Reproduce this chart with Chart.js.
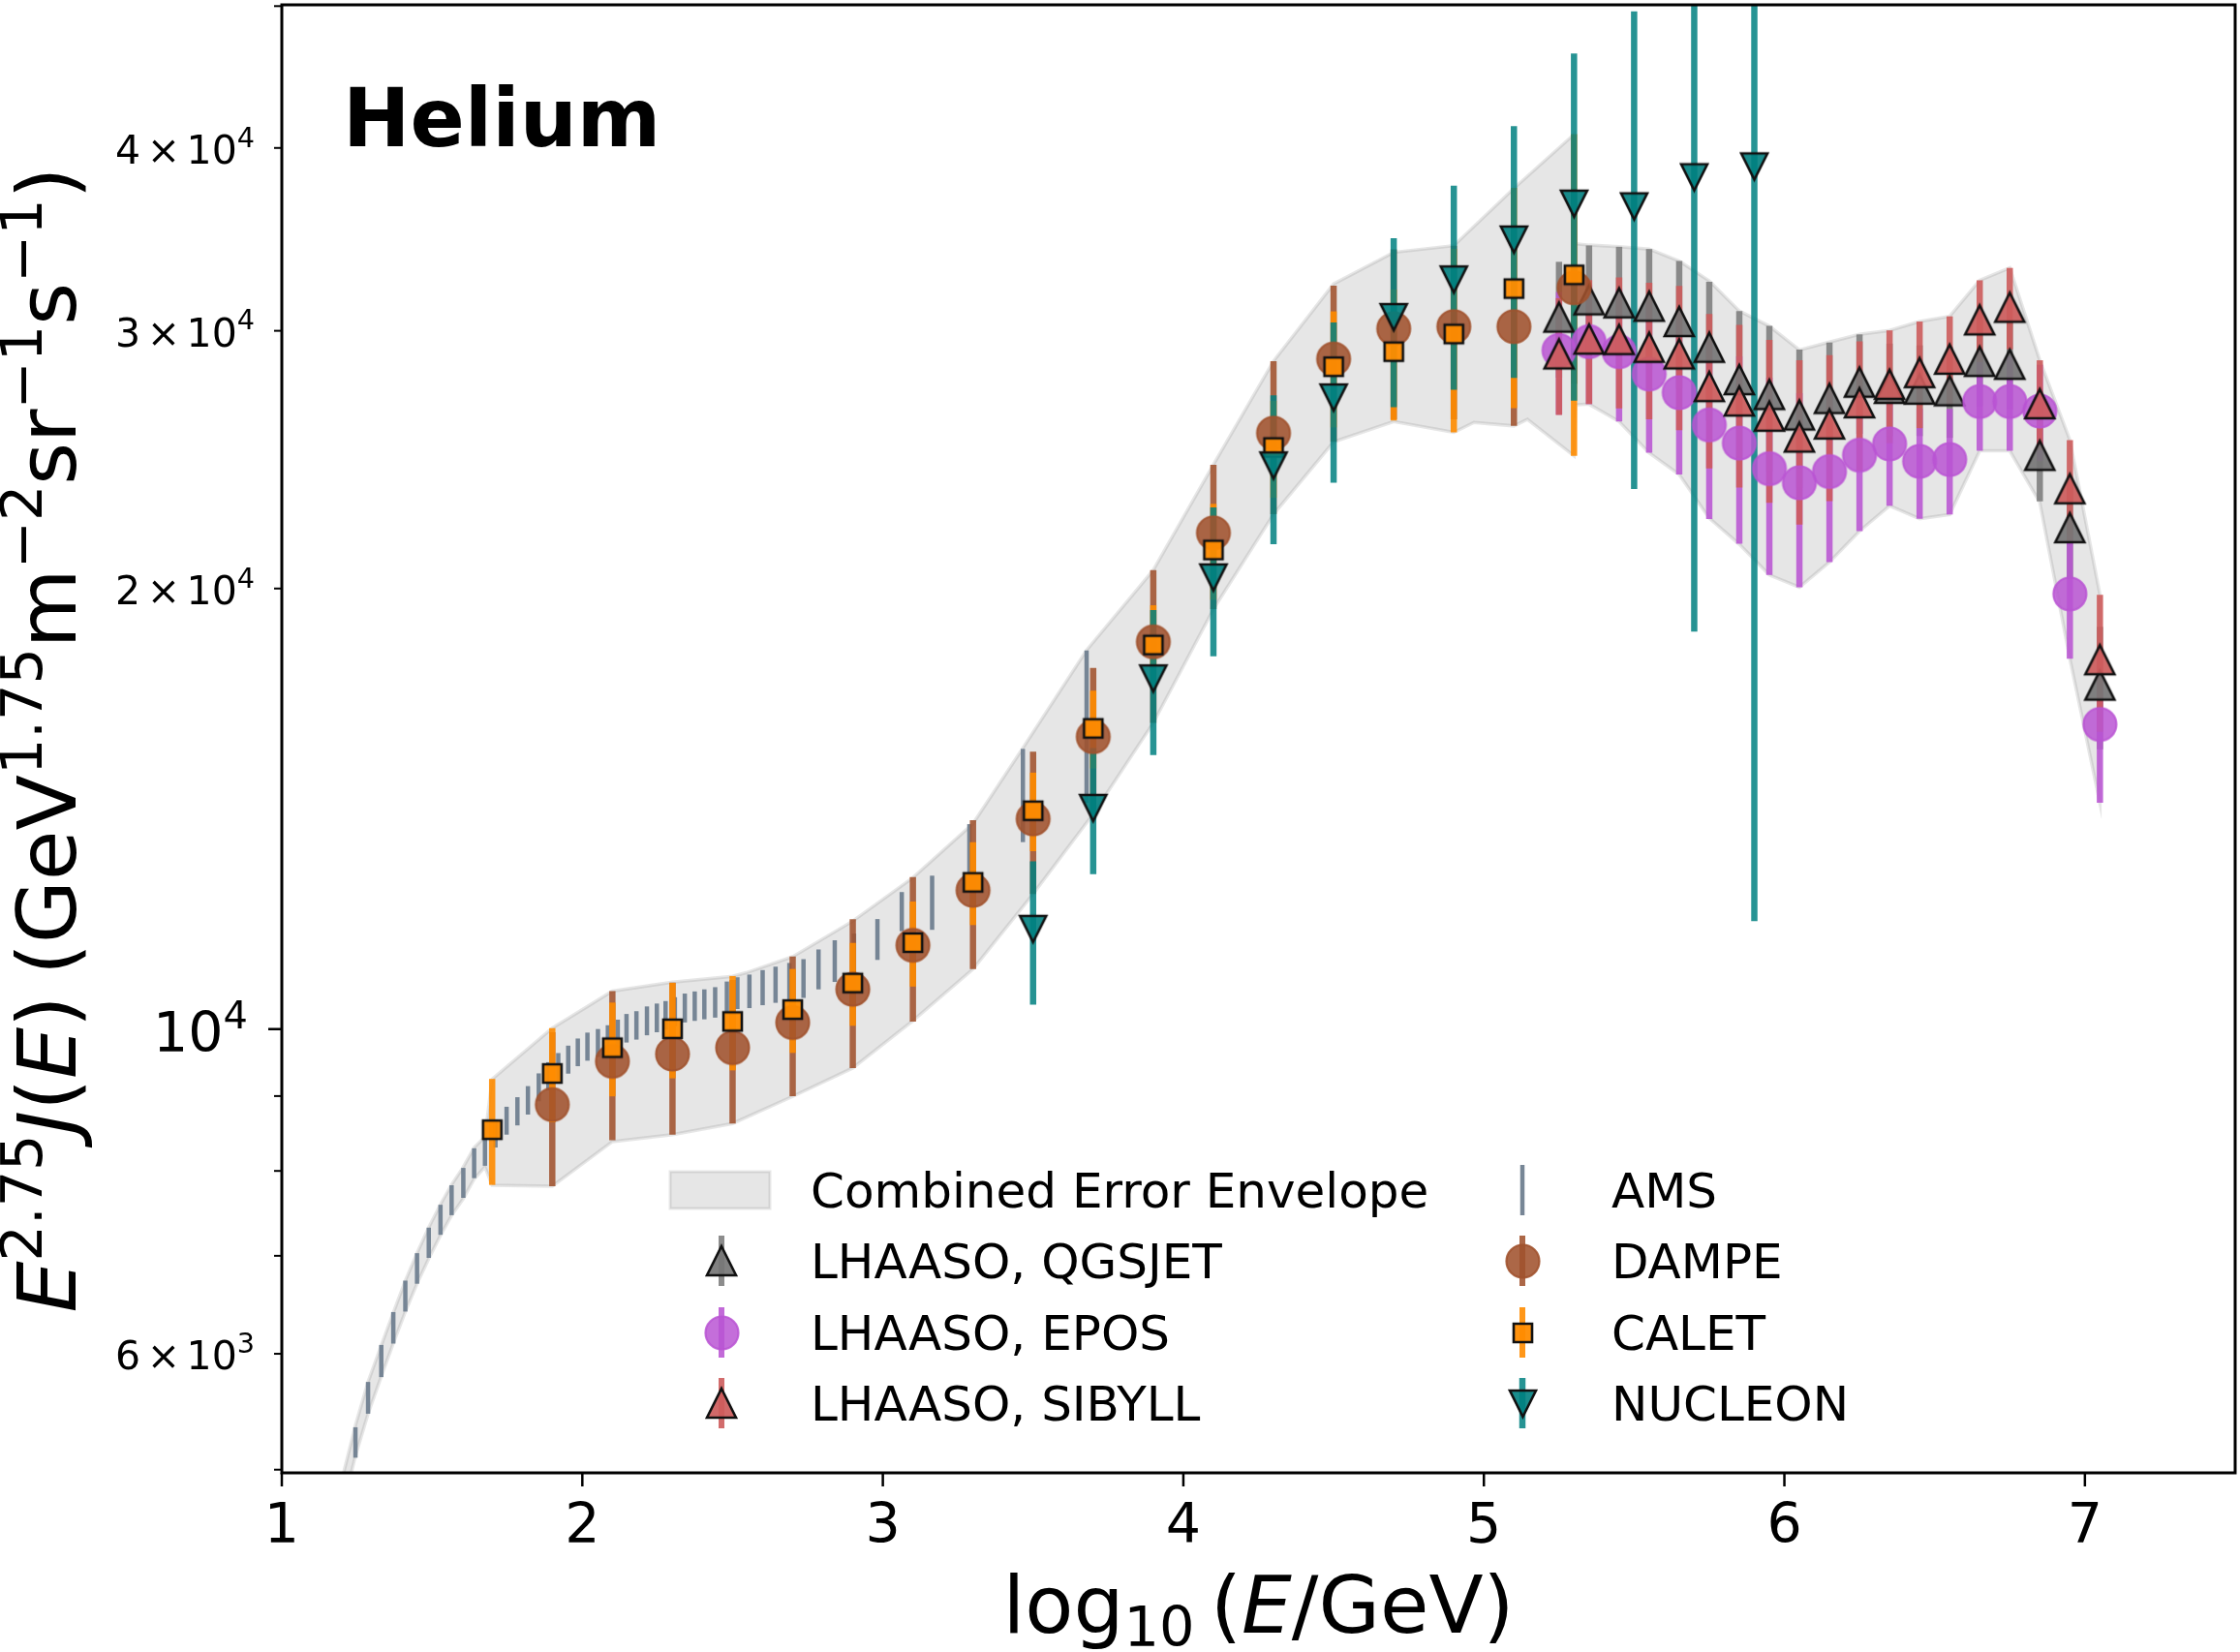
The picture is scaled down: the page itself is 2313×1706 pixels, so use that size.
<!DOCTYPE html>
<html><head><meta charset="utf-8">
<script src="https://cdn.jsdelivr.net/npm/chart.js@4/dist/chart.umd.min.js"></script>
<style>html,body{margin:0;padding:0;background:#fff}canvas{display:block}</style>
</head><body>
<canvas id="c" width="2313" height="1706"></canvas>
<script>
// ---------------- data ----------------
const amsX = [1.245,1.287,1.331,1.371,1.411,1.450,1.489,1.528,1.565,1.604,1.640,1.676,1.711,1.748,1.784,1.819,1.855,1.887,1.920,1.953,1.985,2.017,2.052,2.085,2.118,2.147,2.180,2.215,2.248,2.277,2.308,2.341,2.374,2.406,2.442,2.481,2.516,2.556,2.600,2.643,2.689,2.736,2.786,2.840,2.904,2.982,3.063,3.164,3.288,3.466,3.678];
const amsY = [5220,5600,5934,6252,6572,6864,7147,7410,7642,7853,8100,8245,8485,8660,8789,8942,9127,9288,9425,9533,9643,9730,9786,9841,9929,10016,10061,10133,10180,10221,10280,10340,10370,10400,10432,10522,10585,10616,10678,10727,10782,10833,10990,11135,11252,11520,12036,12210,13285,14480,16210];
const amsErr = [125,140,150,155,160,165,170,175,180,185,190,180,185,190,195,200,200,205,205,210,210,215,215,220,220,225,225,230,230,230,235,235,240,245,250,255,265,280,295,305,315,330,345,365,370,370,370,520,520,1060,1930];

const dampeX = [1.9,2.1,2.3,2.5,2.7,2.9,3.1,3.3,3.5,3.7,3.9,4.1,4.3,4.5,4.7,4.9,5.1,5.3];
const dampeY = [8880,9506,9615,9711,10104,10646,11410,12440,13920,15840,18390,21830,25540,28700,30100,30200,30200,32100];
const dampeErr = [1070,1110,1145,1091,1105,1240,1290,1450,1550,1810,2200,2470,3060,3510,4000,4100,4370,4500];

const caletX = [1.7,1.9,2.1,2.3,2.5,2.7,2.9,3.1,3.3,3.5,3.7,3.9,4.1,4.3,4.5,4.7,4.9,5.1,5.3];
const caletY = [8536,9325,9711,10005,10121,10312,10752,11457,12598,14100,16050,18300,21250,24970,28350,29030,29850,32060,32760];
const caletErr = [710,690,715,750,750,680,700,765,820,870,980,1180,1600,1900,2580,2980,4280,5500,8120];

const nucleonX = [3.5,3.7,3.9,4.1,4.3,4.5,4.7,4.9,5.1,5.3,5.5,5.7,5.9];
const nucleonY = [11706,14160,17360,20350,24270,27010,30650,32520,34630,36640,36490,38200,38850];
const nucleonErr = [1315,1400,1970,2370,2830,3390,4050,5180,6770,9760,13100,19510,27000];

const lhaasoX = [5.25,5.35,5.45,5.55,5.65,5.75,5.85,5.95,6.05,6.15,6.25,6.35,6.45,6.55,6.65,6.75,6.85,6.95,7.05];
const qgsjetY = [30650,31500,31350,31180,30440,29230,27780,27140,26280,26970,27670,27400,27370,27300,28590,28460,24660,22010,17180];
const qgsjetErr = [2790,2810,2890,2940,3040,3180,3170,3090,2850,2480,2160,2000,1950,1950,1950,1950,1720,1700,1650];
const eposY = [29090,29490,29030,28030,27220,25870,25140,24150,23620,24040,24670,25110,24430,24500,26840,26840,26440,19830,16150];
const eposErr = [2800,2760,3020,3270,3290,3560,3680,3720,3580,3190,2780,2330,2110,2030,2000,2000,2000,1920,1870];
const sibyllY = [28930,29610,29590,29230,28930,27480,26860,26230,25380,25910,26790,27580,28090,28690,30520,31130,26750,23400,17880];
const sibyllErr = [2650,2880,3040,3130,3270,3320,3420,3340,3260,2960,2720,2440,2350,2000,1960,1990,1890,1860,1920];

// combined error envelope outline
const envUpX = [1.205,1.245,1.287,1.331,1.371,1.411,1.450,1.489,1.528,1.565,1.604,1.640,1.676,1.700,1.900,2.100,2.300,2.500,2.545,2.700,2.900,3.100,3.300,3.466,3.678,3.900,4.100,4.300,4.500,4.700,4.900,5.100,5.300,5.305,5.350,5.450,5.550,5.650,5.750,5.850,5.950,6.050,6.150,6.250,6.350,6.450,6.550,6.650,6.750,6.850,6.950,7.050];
const envUpY = [4970,5360,5740,6080,6400,6730,7030,7320,7590,7830,8050,8300,8440,9243,10015,10616,10765,10865,10927,11207,11853,12690,13816,15560,18150,20590,24300,28600,32300,33940,34300,37540,40860,34400,34330,34240,34120,33480,32450,30950,30220,29110,29470,29830,30020,30440,30690,32480,33120,28640,25260,19810];
const envLoX = [1.205,1.245,1.287,1.331,1.371,1.411,1.450,1.489,1.528,1.565,1.604,1.640,1.676,1.700,1.900,2.100,2.300,2.500,2.700,2.900,3.100,3.300,3.500,3.700,3.900,4.100,4.300,4.500,4.700,4.900,4.967,5.100,5.145,5.300,5.305,5.350,5.450,5.550,5.650,5.750,5.850,5.950,6.050,6.150,6.250,6.350,6.450,6.550,6.650,6.750,6.850,6.950,7.050];
const envLoY = [4730,5110,5460,5790,6100,6410,6700,6970,7230,7460,7660,7900,8050,7822,7810,8378,8470,8620,8995,9406,10133,10990,12370,14030,16190,19360,22480,25190,26010,25570,25970,25830,26100,24640,26700,26730,26010,24760,23930,22340,21440,20430,20040,20850,21890,22780,22320,22470,24840,24840,22900,17910,14270];

// ticks / labels
const xTickValues = [1,2,3,4,5,6,7];
const yMajorTicks = [10000];
const yMinorTicks = [5000,6000,7000,8000,9000,20000,30000,40000,50000];
const yMinorLabelValues = [6000,20000,30000,40000];
const yMinorLabelMant = ['6','2','3','4'];
const yMinorLabelExp = ['3','4','4','4'];
const seriesNames = ['Combined Error Envelope','LHAASO, QGSJET','LHAASO, EPOS','LHAASO, SIBYLL','AMS','DAMPE','CALET','NUCLEON'];

// ---------------- styling ----------------
const FONT = "'DejaVu Sans', sans-serif";
const COL = {
  qgs: 'rgba(128,128,128,0.9)', epos: 'rgba(186,85,211,0.88)', sib: 'rgba(205,92,92,0.9)',
  ams: 'rgba(112,128,144,0.95)', dampe: 'rgba(160,82,45,0.88)', calet: 'rgba(255,140,0,0.9)', nuc: 'rgba(0,128,128,0.85)'
};

function makeMarker(shape, size, fill, stroke, lw) {
  const S = Math.ceil(size + 2 * lw + 4);
  const c = document.createElement('canvas');
  c.width = S; c.height = S;
  const g = c.getContext('2d');
  const m = S / 2, h = size / 2;
  g.beginPath();
  if (shape === 'up') { g.moveTo(m, m - h); g.lineTo(m + h, m + h); g.lineTo(m - h, m + h); g.closePath(); }
  else if (shape === 'down') { g.moveTo(m, m + h); g.lineTo(m + h, m - h); g.lineTo(m - h, m - h); g.closePath(); }
  else if (shape === 'square') { g.rect(m - h, m - h, size, size); }
  else { g.arc(m, m, h, 0, Math.PI * 2); }
  g.fillStyle = fill; g.fill();
  g.lineJoin = 'miter'; g.lineWidth = lw; g.strokeStyle = stroke; g.stroke();
  return c;
}
const mkQ = makeMarker('up', 30, 'rgba(118,118,118,0.92)', '#111', 2.6);
const mkE = makeMarker('circle', 34, 'rgba(186,85,211,0.85)', 'rgba(186,85,211,0.85)', 2.2);
const mkS = makeMarker('up', 30, 'rgba(205,92,92,0.92)', '#111', 2.6);
const mkD = makeMarker('circle', 34, 'rgba(160,82,45,0.88)', 'rgba(160,82,45,0.88)', 2.2);
const mkC = makeMarker('square', 19, 'rgba(255,140,0,0.95)', '#111', 2.6);
const mkN = makeMarker('down', 27, 'rgba(0,128,128,0.9)', '#111', 2.6);

const pts = (xs, ys) => xs.map((x, i) => ({x: x, y: ys[i]}));
const envPoly = pts(envUpX, envUpY)
  .concat(pts(envLoX, envLoY).reverse())
  .concat([{x: envUpX[0], y: envUpY[0]}]);

const errSeries = [
  {x: lhaasoX, y: qgsjetY, e: qgsjetErr, c: COL.qgs, w: 6.5},
  {x: lhaasoX, y: eposY, e: eposErr, c: COL.epos, w: 6.5},
  {x: lhaasoX, y: sibyllY, e: sibyllErr, c: COL.sib, w: 6.5},
  {x: amsX, y: amsY, e: amsErr, c: COL.ams, w: 4.5},
  {x: dampeX, y: dampeY, e: dampeErr, c: COL.dampe, w: 6.5},
  {x: caletX, y: caletY, e: caletErr, c: COL.calet, w: 6.5},
  {x: nucleonX, y: nucleonY, e: nucleonErr, c: COL.nuc, w: 6.5}
];

// rich text helper (super/subscripts, italics)
function rich(ctx, segs, x, y, f, align) {
  const parts = segs.map(s => {
    const fs = (s.sup || s.sub) ? f * 0.7 : f;
    const font = (s.it ? 'italic ' : '') + (s.b ? 'bold ' : '') + fs.toFixed(1) + 'px ' + FONT;
    ctx.font = font;
    return {t: s.t, font: font, w: ctx.measureText(s.t).width, dy: s.sup ? -0.42 * f : (s.sub ? 0.17 * f : 0), gap: (s.gap || 0) * f};
  });
  const total = parts.reduce((a, p) => a + p.w + p.gap, 0);
  let cx = align === 'right' ? x - total : (align === 'center' ? x - total / 2 : x);
  for (const p of parts) { ctx.font = p.font; ctx.fillText(p.t, cx, y + p.dy); cx += p.w + p.gap; }
}

const plugin = {
  id: 'heliumDecor',
  afterDatasetDraw(chart, args) {
    if (args.index !== 0) return;
    const ctx = chart.ctx, xs = chart.scales.x, ys = chart.scales.y, a = chart.chartArea;
    ctx.save();
    ctx.beginPath(); ctx.rect(a.left, a.top, a.right - a.left, a.bottom - a.top); ctx.clip();
    ctx.lineCap = 'butt';
    for (const s of errSeries) {
      ctx.strokeStyle = s.c; ctx.lineWidth = s.w;
      for (let i = 0; i < s.x.length; i++) {
        const px = xs.getPixelForValue(s.x[i]);
        const y1 = ys.getPixelForValue(Math.max(s.y[i] - s.e[i], 1));
        const y2 = ys.getPixelForValue(s.y[i] + s.e[i]);
        ctx.beginPath(); ctx.moveTo(px, y1); ctx.lineTo(px, y2); ctx.stroke();
      }
    }
    ctx.restore();
  },
  afterDraw(chart) {
    const ctx = chart.ctx, xs = chart.scales.x, ys = chart.scales.y, a = chart.chartArea;
    ctx.save();
    ctx.fillStyle = '#000'; ctx.strokeStyle = '#000';
    // frame
    ctx.lineWidth = 3;
    ctx.strokeRect(a.left, a.top, a.right - a.left, a.bottom - a.top);
    // x ticks
    ctx.lineWidth = 2.5;
    ctx.textAlign = 'center'; ctx.textBaseline = 'alphabetic';
    ctx.font = '57px ' + FONT;
    for (const v of xTickValues) {
      const px = xs.getPixelForValue(v);
      ctx.beginPath(); ctx.moveTo(px, a.bottom); ctx.lineTo(px, a.bottom + 14); ctx.stroke();
      ctx.fillText(String(v), px, 1593);
    }
    // y ticks
    ctx.textAlign = 'left';
    for (const v of yMajorTicks) {
      const py = ys.getPixelForValue(v);
      ctx.lineWidth = 2.5;
      ctx.beginPath(); ctx.moveTo(a.left, py); ctx.lineTo(a.left - 14, py); ctx.stroke();
      rich(ctx, [{t: '10'}, {t: String(Math.round(Math.log10(v))), sup: true}], a.left - 35, py + 23, 57, 'right');
    }
    ctx.lineWidth = 2;
    for (const v of yMinorTicks) {
      const py = ys.getPixelForValue(v);
      ctx.beginPath(); ctx.moveTo(a.left, py); ctx.lineTo(a.left - 8, py); ctx.stroke();
    }
    for (let i = 0; i < yMinorLabelValues.length; i++) {
      const py = ys.getPixelForValue(yMinorLabelValues[i]);
      rich(ctx, [{t: yMinorLabelMant[i], gap: 0.16}, {t: '\u00d7', gap: 0.16}, {t: '10'}, {t: yMinorLabelExp[i], sup: true}], a.left - 28, py + 16, 41, 'right');
    }
    // axis labels
    rich(ctx, [{t: 'log'}, {t: '10', sub: true, gap: 0.2}, {t: '('}, {t: 'E', it: true}, {t: '/GeV)'}], (a.left + a.right) / 2, 1686, 82, 'center');
    ctx.save();
    ctx.translate(78, 764); ctx.rotate(-Math.PI / 2);
    rich(ctx, [{t: 'E', it: true}, {t: '2.75', sup: true}, {t: 'J', it: true}, {t: '('}, {t: 'E', it: true}, {t: ')', gap: 0.25},
               {t: '(GeV'}, {t: '1.75', sup: true}, {t: 'm'}, {t: '\u22122', sup: true}, {t: 'sr'}, {t: '\u22121', sup: true},
               {t: 's'}, {t: '\u22121', sup: true}, {t: ')'}], 0, 0, 84, 'center');
    ctx.restore();
    // Helium annotation
    ctx.font = 'bold 83px ' + FONT; ctx.textAlign = 'left';
    ctx.fillText('Helium', 354, 151);
    // legend
    const rows = [1229, 1302, 1376, 1449];
    const col1 = 745, col2 = 1572, t1 = 837, t2 = 1664;
    const handle = (cx, cy, color, w, marker) => {
      ctx.strokeStyle = color; ctx.lineWidth = w; ctx.lineCap = 'butt';
      ctx.beginPath(); ctx.moveTo(cx, cy - 26); ctx.lineTo(cx, cy + 26); ctx.stroke();
      if (marker) ctx.drawImage(marker, Math.round(cx - marker.width / 2), Math.round(cy - marker.height / 2));
    };
    // envelope patch
    ctx.fillStyle = 'rgba(128,128,128,0.2)'; ctx.fillRect(692, 1210, 103, 38);
    ctx.strokeStyle = 'rgba(128,128,128,0.2)'; ctx.lineWidth = 3; ctx.strokeRect(692, 1210, 103, 38);
    handle(col1, rows[1], COL.qgs, 6, mkQ);
    handle(col1, rows[2], COL.epos, 6, mkE);
    handle(col1, rows[3], COL.sib, 6, mkS);
    handle(col2, rows[0], COL.ams, 4.5, null);
    handle(col2, rows[1], COL.dampe, 6, mkD);
    handle(col2, rows[2], COL.calet, 6, mkC);
    handle(col2, rows[3], COL.nuc, 6.5, mkN);
    ctx.fillStyle = '#000'; ctx.font = '50px ' + FONT; ctx.textAlign = 'left'; ctx.textBaseline = 'alphabetic';
    for (let i = 0; i < 4; i++) {
      ctx.fillText(seriesNames[i], t1, rows[i] + 18);
      ctx.fillText(seriesNames[i + 4], t2, rows[i] + 18);
    }
    ctx.restore();
  }
};

new Chart(document.getElementById('c'), {
  type: 'scatter',
  data: {
    datasets: [
      {label: seriesNames[0], data: envPoly, showLine: true, fill: 'shape', tension: 0,
       backgroundColor: 'rgba(128,128,128,0.2)', borderColor: 'rgba(128,128,128,0.2)', borderWidth: 3.5, pointRadius: 0, order: 10},
      {label: seriesNames[1], data: pts(lhaasoX, qgsjetY), pointStyle: mkQ, order: 8},
      {label: seriesNames[2], data: pts(lhaasoX, eposY), pointStyle: mkE, order: 7},
      {label: seriesNames[3], data: pts(lhaasoX, sibyllY), pointStyle: mkS, order: 6},
      {label: seriesNames[4], data: pts(amsX, amsY), pointRadius: 0, order: 5},
      {label: seriesNames[5], data: pts(dampeX, dampeY), pointStyle: mkD, order: 4},
      {label: seriesNames[6], data: pts(caletX, caletY), pointStyle: mkC, order: 3},
      {label: seriesNames[7], data: pts(nucleonX, nucleonY), pointStyle: mkN, order: 2}
    ]
  },
  options: {
    responsive: false, animation: false, devicePixelRatio: 1,
    layout: {padding: {left: 291, right: 3, top: 2, bottom: 185}},
    plugins: {legend: {display: false}, tooltip: {enabled: false}},
    scales: {
      x: {type: 'linear', min: 1, max: 7.5, ticks: {display: false}, grid: {display: false, drawTicks: false}, border: {display: false}},
      y: {type: 'logarithmic', min: 4975, max: 50100, ticks: {display: false}, grid: {display: false, drawTicks: false}, border: {display: false}}
    }
  },
  plugins: [plugin]
});
</script>
</body></html>
